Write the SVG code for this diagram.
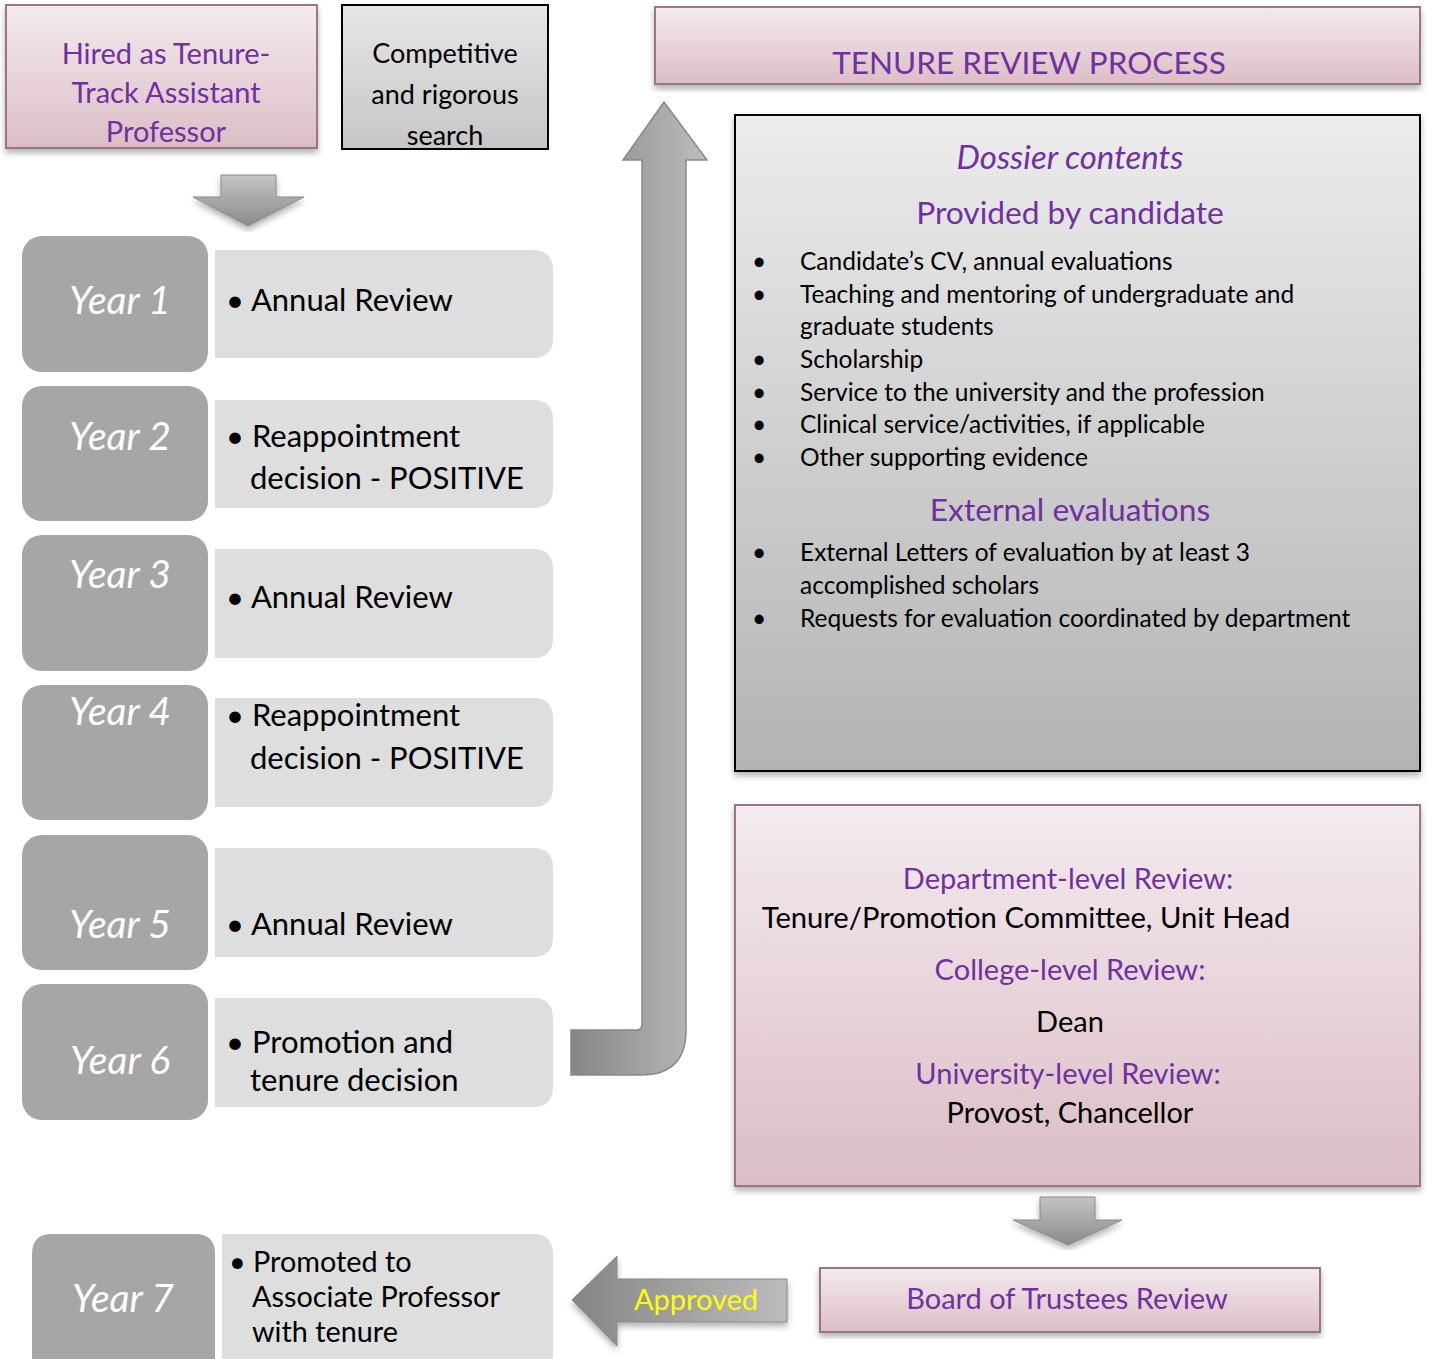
<svg xmlns="http://www.w3.org/2000/svg" width="1429" height="1359" viewBox="0 0 1429 1359">
<defs>
<linearGradient id="pink" x1="0" y1="0" x2="0" y2="1"><stop offset="0" stop-color="#f3ebef"/><stop offset="1" stop-color="#dbbdc5"/></linearGradient>
<linearGradient id="grayv" x1="0" y1="0" x2="0" y2="1"><stop offset="0" stop-color="#ececec"/><stop offset="1" stop-color="#b3b3b3"/></linearGradient>
<linearGradient id="grayc" x1="0" y1="0" x2="0" y2="1"><stop offset="0" stop-color="#e6e6e6"/><stop offset="1" stop-color="#c6c6c6"/></linearGradient>
<linearGradient id="arrv" x1="0" y1="0" x2="0" y2="1"><stop offset="0" stop-color="#c4c4c4"/><stop offset="1" stop-color="#8a8a8a"/></linearGradient>
<linearGradient id="arrh" x1="0" y1="0" x2="1" y2="0"><stop offset="0" stop-color="#858585"/><stop offset="1" stop-color="#bcbcbc"/></linearGradient>
<linearGradient id="arrU" gradientUnits="userSpaceOnUse" x1="571" y1="0" x2="707" y2="0"><stop offset="0" stop-color="#858585"/><stop offset="1" stop-color="#bdbdbd"/></linearGradient>
<filter id="sh" x="-5%" y="-5%" width="110%" height="115%"><feDropShadow dx="0" dy="4" stdDeviation="3" flood-color="#000" flood-opacity="0.3"/></filter>
</defs>
<style>
text{font-family:Lato,"Open Sans","Liberation Sans",sans-serif}
.pk{fill:url(#pink);stroke:#9a7585;stroke-width:2}
.purple{fill:#7030a0}
.yr{fill:#a6a6a6}
.lt{fill:#dedede}
.yt{fill:#ffffff;font-style:italic;font-size:39px;text-anchor:middle}
.bt{fill:#000;font-size:31px}
.dt{fill:#000;font-size:24.5px}
.c{text-anchor:middle}
</style>
<rect width="1429" height="1359" fill="#fff"/>

<g id="hired">
<rect class="pk" x="6" y="5" width="311" height="143" filter="url(#sh)"/>
<text class="purple c" font-size="29"><tspan x="166" y="64">Hired as Tenure-</tspan><tspan x="166" y="103">Track Assistant</tspan><tspan x="166" y="142">Professor</tspan></text>
</g>
<g id="search">
<rect x="342" y="5" width="206" height="144" fill="url(#grayc)" stroke="#000" stroke-width="2"/>
<text class="c" font-size="27" fill="#000"><tspan x="445" y="63">Competitive</tspan><tspan x="445" y="104">and rigorous</tspan><tspan x="445" y="145">search</tspan></text>
</g>

<g id="connectors">
<path d="M221,175 H276 V197 H304 L248,226 L193,197 H221 Z" fill="url(#arrv)" stroke="#8a8a8a" stroke-width="1" filter="url(#sh)"/>
<path d="M571,1030 H636 Q642,1030 642,1024 V160 H623 L664,102 L707,160 H686 V1030 Q686,1075 641,1075 H571 Z" fill="url(#arrU)" stroke="#888" stroke-width="1.5"/>
<path d="M1040,1197 H1095 V1220 H1122 L1068,1245 L1013,1220 H1040 Z" fill="url(#arrv)" stroke="#8a8a8a" stroke-width="1" filter="url(#sh)"/>
<path d="M787,1279 V1322 H617 V1346 L572,1300 L617,1256 V1279 Z" fill="url(#arrh)" stroke="#888" stroke-width="1" filter="url(#sh)"/>
<text x="696" y="1310" class="c" font-size="29" fill="#ffff00">Approved</text>
</g>

<g id="year1">
<path class="lt" d="M215,250 H533 Q553,250 553,270 V338 Q553,358 533,358 H215 Z"/>
<rect class="yr" x="22" y="236" width="186" height="136" rx="20"/>
<text class="yt" x="120" y="314">Year 1</text>
<text class="bt" x="226" y="311">• Annual Review</text>
</g>
<g id="year2">
<path class="lt" d="M215,400 H533 Q553,400 553,420 V488 Q553,508 533,508 H215 Z"/>
<rect class="yr" x="22" y="386" width="186" height="135" rx="20"/>
<text class="yt" x="120" y="450">Year 2</text>
<text class="bt"><tspan x="226" y="447">• Reappointment</tspan><tspan x="250" y="489">decision - POSITIVE</tspan></text>
</g>
<g id="year3">
<path class="lt" d="M215,549 H533 Q553,549 553,569 V638 Q553,658 533,658 H215 Z"/>
<rect class="yr" x="22" y="535" width="186" height="136" rx="20"/>
<text class="yt" x="120" y="588">Year 3</text>
<text class="bt" x="226" y="608">• Annual Review</text>
</g>
<g id="year4">
<path class="lt" d="M215,698 H533 Q553,698 553,718 V787 Q553,807 533,807 H215 Z"/>
<rect class="yr" x="22" y="685" width="186" height="135" rx="20"/>
<text class="yt" x="120" y="725">Year 4</text>
<text class="bt"><tspan x="226" y="726">• Reappointment</tspan><tspan x="250" y="769">decision - POSITIVE</tspan></text>
</g>
<g id="year5">
<path class="lt" d="M215,848 H533 Q553,848 553,868 V937 Q553,957 533,957 H215 Z"/>
<rect class="yr" x="22" y="835" width="186" height="135" rx="20"/>
<text class="yt" x="120" y="938">Year 5</text>
<text class="bt" x="226" y="935">• Annual Review</text>
</g>
<g id="year6">
<path class="lt" d="M215,998 H533 Q553,998 553,1018 V1087 Q553,1107 533,1107 H215 Z"/>
<rect class="yr" x="22" y="984" width="186" height="136" rx="20"/>
<text class="yt" x="120" y="1074">Year 6</text>
<text class="bt"><tspan x="226" y="1053">• Promotion and</tspan><tspan x="250" y="1091">tenure decision</tspan></text>
</g>
<g id="year7">
<path class="lt" d="M222,1234 H533 Q553,1234 553,1254 V1359 H222 Z"/>
<path class="yr" d="M32,1359 V1254 Q32,1234 52,1234 H195 Q215,1234 215,1254 V1359 Z"/>
<text class="yt" x="123" y="1312">Year 7</text>
<text fill="#000" font-size="28.8"><tspan x="229" y="1272">• Promoted to</tspan><tspan x="252" y="1307">Associate Professor</tspan><tspan x="252" y="1342">with tenure</tspan></text>
</g>

<g id="title">
<rect class="pk" x="655" y="7" width="765" height="77" filter="url(#sh)"/>
<text class="purple c" x="1029" y="74" font-size="31.5">TENURE REVIEW PROCESS</text>
</g>

<g id="dossier">
<rect x="735" y="115" width="685" height="656" fill="url(#grayv)" stroke="#000" stroke-width="2" filter="url(#sh)"/>
<text class="purple c" x="1070" y="169" font-size="33" font-style="italic">Dossier contents</text>
<text class="purple c" x="1070" y="224" font-size="31.7">Provided by candidate</text>
<text class="dt" x="752" y="270">•</text><text class="dt" x="800" y="270">Candidate’s CV, annual evaluations</text>
<text class="dt" x="752" y="303">•</text><text class="dt" x="800" y="303">Teaching and mentoring of undergraduate and</text>
<text class="dt" x="800" y="335">graduate students</text>
<text class="dt" x="752" y="368">•</text><text class="dt" x="800" y="368">Scholarship</text>
<text class="dt" x="752" y="401">•</text><text class="dt" x="800" y="401">Service to the university and the profession</text>
<text class="dt" x="752" y="433">•</text><text class="dt" x="800" y="433">Clinical service/activities, if applicable</text>
<text class="dt" x="752" y="466">•</text><text class="dt" x="800" y="466">Other supporting evidence</text>
<text class="purple c" x="1070" y="521" font-size="31.7">External evaluations</text>
<text class="dt" x="752" y="561">•</text><text class="dt" x="800" y="561">External Letters of evaluation by at least 3</text>
<text class="dt" x="800" y="594">accomplished  scholars</text>
<text class="dt" x="752" y="627">•</text><text class="dt" x="800" y="627">Requests for evaluation coordinated by department</text>
</g>

<g id="reviews">
<rect class="pk" x="735" y="805" width="685" height="381" filter="url(#sh)"/>
<text class="purple c" x="1068" y="889" font-size="29">Department-level Review:</text>
<text class="c" x="1026" y="928" font-size="29.2" fill="#000">Tenure/Promotion Committee, Unit Head</text>
<text class="purple c" x="1070" y="980" font-size="29">College-level Review:</text>
<text class="c" x="1070" y="1032" font-size="29" fill="#000">Dean</text>
<text class="purple c" x="1068" y="1084" font-size="29">University-level Review:</text>
<text class="c" x="1070" y="1123" font-size="29" fill="#000">Provost, Chancellor</text>
</g>

<g id="board">
<rect class="pk" x="820" y="1268" width="500" height="64" filter="url(#sh)"/>
<text class="purple c" x="1067" y="1309" font-size="29">Board of Trustees Review</text>
</g>
</svg>
